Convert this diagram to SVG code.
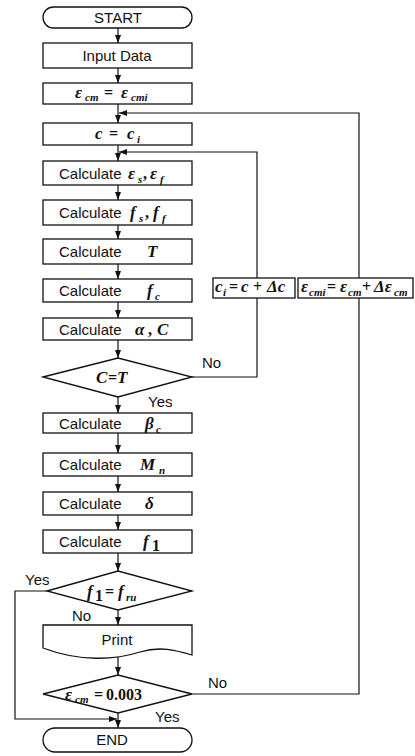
<svg xmlns="http://www.w3.org/2000/svg" width="415" height="756" viewBox="0 0 415 756">
<defs>
<marker id="ah" markerUnits="userSpaceOnUse" markerWidth="8" markerHeight="6" refX="8" refY="3" orient="auto"><path d="M0,0 L8,3 L0,6 z" fill="#111"/></marker>
<style>
.bx{fill:#fff;stroke:#111;stroke-width:1.3}
.ln{fill:none;stroke:#111;stroke-width:1.2;marker-end:url(#ah)}
.t{font-family:"Liberation Sans",Arial,sans-serif;font-size:15px;fill:#111}
.m{font-family:"Liberation Serif","Times New Roman",serif;font-style:italic;font-weight:bold;font-size:17px;fill:#111}
.s{font-family:"Liberation Serif","Times New Roman",serif;font-style:italic;font-weight:bold;font-size:11px;fill:#111}
.e{font-family:"Liberation Serif","Times New Roman",serif;font-weight:bold;font-size:16px;fill:#111}
</style>
</defs>
<g id="connectors">
<path class="ln" d="M118,27 V43"/>
<path class="ln" d="M118,68 V83"/>
<path class="ln" d="M118,104 V123"/>
<path class="ln" d="M118,145 V161"/>
<path class="ln" d="M118,185 V200"/>
<path class="ln" d="M118,225 V239"/>
<path class="ln" d="M118,264 V279"/>
<path class="ln" d="M118,302 V318"/>
<path class="ln" d="M118,340 V358"/>
<path class="ln" d="M118,397 V413"/>
<path class="ln" d="M192,377 H257 V152 H119"/>
<path class="ln" d="M118,433 V453"/>
<path class="ln" d="M118,476 V492"/>
<path class="ln" d="M118,515 V530"/>
<path class="ln" d="M118,553 V571"/>
<path class="ln" d="M118,610 V625"/>
<path class="ln" d="M47,591 H15 V719 H117"/>
<path class="ln" d="M118,655 V675"/>
<path class="ln" d="M118,713 V728"/>
<path class="ln" d="M192,694 H359 V113 H119"/>
<text class="t" x="202" y="368">No</text>
<text class="t" x="148" y="407">Yes</text>
<text class="t" x="25" y="585">Yes</text>
<text class="t" x="72" y="621">No</text>
<text class="t" x="208" y="688">No</text>
<text class="t" x="155" y="722">Yes</text>
</g>
<g id="start"><rect class="bx" x="43" y="7" width="149" height="21" rx="10.5"/><text class="t" x="118" y="22.5" text-anchor="middle">START</text></g>
<g id="input"><rect class="bx" x="43" y="43" width="149" height="25"/><text class="t" x="117" y="61" text-anchor="middle">Input Data</text></g>
<g id="init-ecm"><rect class="bx" x="43" y="83" width="149" height="21"/>
<text><tspan class="m" x="75" y="98">ε</tspan><tspan class="s" x="85" y="101">cm</tspan><tspan class="e" x="104" y="98">=</tspan><tspan class="m" x="121" y="98">ε</tspan><tspan class="s" x="131" y="101">cmi</tspan></text></g>
<g id="init-c"><rect class="bx" x="43" y="123" width="149" height="22"/>
<text><tspan class="m" x="95" y="139">c</tspan><tspan class="e" x="109" y="139">=</tspan><tspan class="m" x="127" y="139">c</tspan><tspan class="s" x="137" y="143">i</tspan></text></g>
<g id="calc-eps"><rect class="bx" x="43" y="161" width="149" height="24"/>
<text><tspan class="t" x="59" y="178.5">Calculate</tspan><tspan class="m" x="128" y="178.5">ε</tspan><tspan class="s" x="138" y="182.5">s</tspan><tspan class="e" x="143" y="178.5">,</tspan><tspan class="m" x="150" y="178.5">ε</tspan><tspan class="s" x="160" y="182.5">f</tspan></text></g>
<g id="calc-f"><rect class="bx" x="43" y="200" width="149" height="25"/>
<text><tspan class="t" x="59" y="218">Calculate</tspan><tspan class="m" x="130" y="218">f</tspan><tspan class="s" x="139" y="222">s</tspan><tspan class="e" x="145" y="218">,</tspan><tspan class="m" x="153" y="218">f</tspan><tspan class="s" x="162" y="222">f</tspan></text></g>
<g id="calc-T"><rect class="bx" x="43" y="239" width="149" height="25"/>
<text><tspan class="t" x="59" y="257">Calculate</tspan><tspan class="m" x="147" y="257">T</tspan></text></g>
<g id="calc-fc"><rect class="bx" x="43" y="279" width="149" height="23"/>
<text><tspan class="t" x="59" y="296">Calculate</tspan><tspan class="m" x="147" y="296">f</tspan><tspan class="s" x="155" y="300">c</tspan></text></g>
<g id="calc-aC"><rect class="bx" x="43" y="318" width="149" height="22"/>
<text><tspan class="t" x="59" y="334.5">Calculate</tspan><tspan class="m" x="135" y="334.5">α</tspan><tspan class="e" x="148" y="334.5">,</tspan><tspan class="m" x="157" y="334.5">C</tspan></text></g>
<g id="dec-CT"><polygon class="bx" points="43,377 118,358 192,377 118,397"/>
<text><tspan class="m" x="96" y="383">C</tspan><tspan class="e" x="108" y="383">=</tspan><tspan class="m" x="117" y="383">T</tspan></text></g>
<g id="upd-c"><rect class="bx" x="213" y="278" width="82" height="20"/>
<text><tspan class="m" x="215" y="292">c</tspan><tspan class="s" x="223" y="296">i</tspan><tspan class="e" x="229" y="292">=</tspan><tspan class="m" x="241" y="292">c</tspan><tspan class="e" x="253" y="292">+</tspan><tspan class="m" x="267" y="292">Δc</tspan></text></g>
<g id="upd-ecm"><rect class="bx" x="298" y="278" width="115" height="20"/>
<text><tspan class="m" x="301" y="292">ε</tspan><tspan class="s" x="309" y="296">cmi</tspan><tspan class="e" x="327" y="292">=</tspan><tspan class="m" x="340" y="292">ε</tspan><tspan class="s" x="348" y="296">cm</tspan><tspan class="e" x="362" y="292">+</tspan><tspan class="m" x="374" y="292">Δε</tspan><tspan class="s" x="394" y="296">cm</tspan></text></g>
<g id="calc-beta"><rect class="bx" x="43" y="413" width="149" height="20"/>
<text><tspan class="t" x="59" y="428.5">Calculate</tspan><tspan class="m" x="145" y="428.5">β</tspan><tspan class="s" x="156" y="432.5">c</tspan></text></g>
<g id="calc-M"><rect class="bx" x="43" y="453" width="149" height="23"/>
<text><tspan class="t" x="59" y="470">Calculate</tspan><tspan class="m" x="140" y="470">M</tspan><tspan class="s" x="159" y="474">n</tspan></text></g>
<g id="calc-d"><rect class="bx" x="43" y="492" width="149" height="23"/>
<text><tspan class="t" x="59" y="509">Calculate</tspan><tspan class="m" x="145" y="509">δ</tspan></text></g>
<g id="calc-f1"><rect class="bx" x="43" y="530" width="149" height="23"/>
<text><tspan class="t" x="59" y="547">Calculate</tspan><tspan class="m" x="143" y="547">f</tspan><tspan class="e" x="152" y="551" font-size="11">1</tspan></text></g>
<g id="dec-f1"><polygon class="bx" points="47,591 118,571 192,591 118,610"/>
<text><tspan class="m" x="87" y="597">f</tspan><tspan class="e" x="95" y="601" font-size="11">1</tspan><tspan class="e" x="105" y="597">=</tspan><tspan class="m" x="118" y="597">f</tspan><tspan class="s" x="126" y="601">ru</tspan></text></g>
<g id="print"><path class="bx" d="M43,625 H192 V655 C175,650 160,646 140,652 C115,660 80,662 43,648 Z"/><text class="t" x="117" y="645" text-anchor="middle">Print</text></g>
<g id="dec-ecm"><polygon class="bx" points="43,694 118,675 192,694 118,713"/>
<text><tspan class="m" x="65" y="700">ε</tspan><tspan class="s" x="75" y="703">cm</tspan><tspan class="e" x="94" y="700">=</tspan><tspan class="e" x="106" y="700">0.003</tspan></text></g>
<g id="end"><rect class="bx" x="43" y="728" width="149" height="24" rx="12"/><text class="t" x="112" y="745" text-anchor="middle">END</text></g>
</svg>
